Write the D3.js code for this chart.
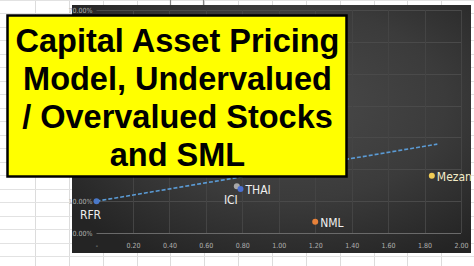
<!DOCTYPE html>
<html>
<head>
<meta charset="utf-8">
<script src="https://cdn.jsdelivr.net/npm/d3@7"></script>
<style>
  body { margin: 0; background: #fff; }
  svg { display: block; }
</style>
</head>
<body>
<svg id="chart" width="474" height="266"></svg>
<script>
// data
const names   = ["RFR", "ICI", "THAI", "NML", "Mezan"];
const betas   = [0, 0.77, 0.79, 1.2, 1.84];
const returns = [0.10, 0.147, 0.138, 0.035, 0.18];
const pointColors = ["#4a78c8", "#a8a8a8", "#4a6fd0", "#e8823a", "#f0cc55"];

// security market line
const smlBeta   = [0, 1.87];
const smlReturn = [0.10, 0.279];

const xTicks = [0, 0.2, 0.4, 0.6, 0.8, 1.0, 1.2, 1.4, 1.6, 1.8, 2.0];
const yTicks = [0, 0.1, 0.2, 0.3, 0.4, 0.5, 0.6, 0.7];

const titleLines = ["Capital Asset Pricing", "Model, Undervalued", "/ Overvalued Stocks", "and SML"];

const W = 474, H = 266;
const svg = d3.select("#chart");

// spreadsheet cells behind the chart
const cells = svg.append("g");
d3.range(0, 14).forEach(i => {
  const cx = Math.round(35 + i * 33.85) + 0.5;
  cells.append("line").attr("x1", cx).attr("x2", cx).attr("y1", 0).attr("y2", H)
    .attr("stroke", "#dcdcdc").attr("stroke-width", 1);
});
d3.range(0, 20).forEach(i => {
  const cy = Math.round(256 - i * 13.5) + 0.5;
  cells.append("line").attr("x1", 0).attr("x2", W).attr("y1", cy).attr("y2", cy)
    .attr("stroke", "#e2e2e2").attr("stroke-width", 1);
});
[170.5, 203.5].forEach(cx => {
  cells.append("line").attr("x1", cx).attr("x2", cx).attr("y1", 0).attr("y2", 6)
    .attr("stroke", "#888").attr("stroke-width", 1.2);
});

// chart area
const defs = svg.append("defs");
const grad = defs.append("radialGradient").attr("id", "bg")
  .attr("cx", "55%").attr("cy", "40%").attr("r", "70%");
grad.append("stop").attr("offset", "0%").attr("stop-color", "#4a4a4a");
grad.append("stop").attr("offset", "55%").attr("stop-color", "#3b3b3b");
grad.append("stop").attr("offset", "100%").attr("stop-color", "#242424");

svg.append("rect").attr("x", 72).attr("y", 5).attr("width", 399).attr("height", 248)
  .attr("fill", "url(#bg)");

const x = d3.scaleLinear().domain([0, 2]).range([96.5, 461]);
const y = d3.scaleLinear().domain([0, 0.7]).range([233, 10]);

// gridlines
const grid = svg.append("g");
grid.selectAll(".h").data(yTicks).enter().append("line")
  .attr("x1", x(0)).attr("x2", x(2))
  .attr("y1", d => Math.round(y(d)) + 0.5).attr("y2", d => Math.round(y(d)) + 0.5)
  .attr("stroke", d => d === 0 ? "#6a6a6a" : "#4a4a4a").attr("stroke-width", 1);
grid.selectAll(".v").data(xTicks.slice(1)).enter().append("line")
  .attr("x1", d => Math.round(x(d)) + 0.5).attr("x2", d => Math.round(x(d)) + 0.5)
  .attr("y1", y(0.7)).attr("y2", y(0))
  .attr("stroke", "#444").attr("stroke-width", 1);

// axes
const narrow = "'DejaVu Sans Condensed', 'Liberation Sans Narrow', sans-serif";
const xAxis = svg.append("g").attr("transform", `translate(0,${y(0)})`)
  .call(d3.axisBottom(x).tickValues(xTicks).tickSize(0).tickPadding(10)
    .tickFormat(d => d === 0 ? "-" : d3.format(".2f")(d)));
const yAxis = svg.append("g").attr("transform", `translate(${x(0)},0)`)
  .call(d3.axisLeft(y).tickValues(yTicks).tickSize(0).tickPadding(4)
    .tickFormat(d3.format(".2%")));
[xAxis, yAxis].forEach(a => {
  a.select(".domain").remove();
  a.selectAll("text").attr("fill", "#b0b0b0").style("font-family", narrow).style("font-size", "7px");
});

// SML
svg.append("path")
  .datum(smlBeta.map((b, i) => [b, smlReturn[i]]))
  .attr("d", d3.line().x(d => x(d[0])).y(d => y(d[1])))
  .attr("fill", "none").attr("stroke", "#5b9bd5").attr("stroke-width", 1.6)
  .attr("stroke-dasharray", "4,2");

// points
const pts = names.map((n, i) => ({ name: n, beta: betas[i], ret: returns[i], color: pointColors[i] }));
svg.selectAll(".pt").data(pts).enter().append("circle")
  .attr("cx", d => x(d.beta)).attr("cy", d => y(d.ret)).attr("r", 3)
  .attr("fill", d => d.color);

// data labels (Excel style: below or right)
const labelPlace = { RFR: "below", ICI: "below", THAI: "right", NML: "right", Mezan: "right" };
svg.selectAll(".lbl").data(pts).enter().append("text")
  .attr("x", d => labelPlace[d.name] === "below" ? x(d.beta) - 6 : x(d.beta) + 5)
  .attr("y", d => labelPlace[d.name] === "below" ? y(d.ret) + 14 : y(d.ret) + 1)
  .attr("dy", "0.35em")
  .attr("text-anchor", d => labelPlace[d.name] === "below" ? "middle" : "start")
  .attr("fill", d => d.name === "Mezan" ? "#f3ecc8" : "#f0f0f0")
  .style("font-family", narrow).style("font-size", "12px")
  .text(d => d.name);

// yellow title box
svg.append("rect").attr("x", 7.5).attr("y", 15.5).attr("width", 339).attr("height", 161)
  .attr("fill", "#ffff00").attr("stroke", "#000").attr("stroke-width", 2.5);
svg.selectAll(".title").data(titleLines).enter().append("text")
  .attr("x", 177.5).attr("y", (d, i) => 52 + i * 38)
  .attr("text-anchor", "middle")
  .style("font-family", "'Liberation Sans', Arial, sans-serif")
  .style("font-weight", "bold").style("font-size", "32.5px")
  .attr("fill", "#000")
  .text(d => d);
</script>
</body>
</html>
